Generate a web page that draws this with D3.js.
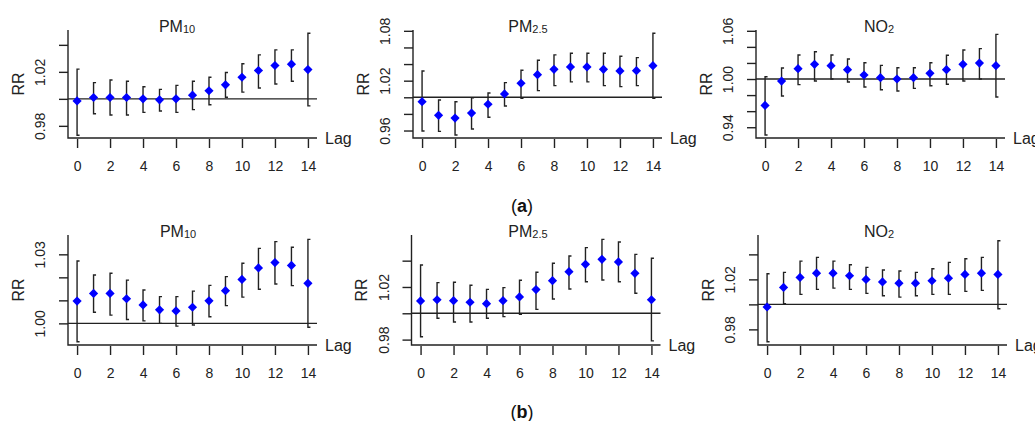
<!DOCTYPE html>
<html>
<head>
<meta charset="utf-8">
<script src="https://cdn.jsdelivr.net/npm/d3@7"></script>
<style>
  body { margin: 0; background: #fff; }
  svg text { font-family: Arial, "Liberation Sans", sans-serif; }
</style>
</head>
<body>
<svg id="chart" width="1035" height="421"></svg>
<script>
const lags = d3.range(0, 15);

// (a) row
const pm10A = [0.9985, 1.001, 1.001, 1.001, 1.000, 0.9993, 1.000, 1.0027, 1.006, 1.0104, 1.016, 1.021, 1.0247, 1.0257, 1.0217];
const pm10ALo = [0.973, 0.989, 0.988, 0.988, 0.990, 0.991, 0.990, 0.992, 0.9956, 1.0012, 1.005, 1.008, 1.011, 1.013, 0.9948];
const pm10AHi = [1.022, 1.012, 1.014, 1.013, 1.009, 1.007, 1.010, 1.013, 1.016, 1.0195, 1.026, 1.0326, 1.0363, 1.0363, 1.0486];

const pm25A = [0.9947, 0.9783, 0.975, 0.981, 0.9916, 1.004, 1.0169, 1.0272, 1.0337, 1.0365, 1.0365, 1.0337, 1.0317, 1.032, 1.038];
const pm25ALo = [0.9594, 0.959, 0.9546, 0.9618, 0.9759, 0.9895, 0.9988, 1.008, 1.014, 1.0185, 1.0185, 1.014, 1.0128, 1.014, 0.9988];
const pm25AHi = [1.0317, 0.9967, 0.9947, 0.9995, 1.0052, 1.0176, 1.0325, 1.0446, 1.051, 1.053, 1.053, 1.053, 1.0494, 1.0478, 1.0771];

const no2A = [0.9672, 0.9975, 1.0129, 1.0183, 1.0166, 1.0116, 1.005, 1.0017, 1.000, 1.0017, 1.0071, 1.0116, 1.0183, 1.0199, 1.0166];
const no2ALo = [0.9303, 0.9788, 0.993, 0.9975, 1.000, 0.9963, 0.990, 0.9867, 0.985, 0.9884, 0.9917, 0.9934, 0.9975, 1.000, 0.9776];
const no2AHi = [1.0029, 1.0137, 1.0299, 1.034, 1.0299, 1.0249, 1.0203, 1.017, 1.0141, 1.0141, 1.0203, 1.0295, 1.0361, 1.0378, 1.0556];

// (b) row
const pm10B = [1.0097, 1.013, 1.013, 1.0107, 1.008, 1.0059, 1.0054, 1.007, 1.0098, 1.0142, 1.0191, 1.0241, 1.0264, 1.0252, 1.0174];
const pm10BLo = [0.992, 1.0048, 1.0036, 1.0017, 1.0011, 1.000, 0.9988, 0.9993, 1.0029, 1.0077, 1.0114, 1.0148, 1.0171, 1.0164, 0.9983];
const pm10BHi = [1.0271, 1.021, 1.0218, 1.0188, 1.0145, 1.0116, 1.0116, 1.014, 1.0165, 1.0203, 1.0261, 1.0326, 1.0355, 1.0331, 1.0365];

const pm25B = [1.0094, 1.0103, 1.0096, 1.0084, 1.0073, 1.0096, 1.0124, 1.018, 1.0248, 1.0316, 1.0372, 1.041, 1.039, 1.0304, 1.0103];
const pm25BLo = [0.9822, 0.9962, 0.9934, 0.9934, 0.9962, 0.9975, 0.9992, 1.003, 1.0109, 1.0185, 1.024, 1.0253, 1.024, 1.0152, 0.979];
const pm25BHi = [1.0367, 1.0233, 1.0236, 1.0213, 1.0182, 1.0195, 1.0251, 1.0312, 1.038, 1.0435, 1.0499, 1.0562, 1.0542, 1.0448, 1.0418];

const no2B = [0.9979, 1.0136, 1.0216, 1.025, 1.025, 1.0229, 1.02, 1.018, 1.017, 1.017, 1.0189, 1.021, 1.024, 1.025, 1.024];
const no2BLo = [0.9701, 1.0005, 1.008, 1.012, 1.013, 1.012, 1.0088, 1.0069, 1.0058, 1.0069, 1.008, 1.008, 1.0104, 1.0112, 0.9965];
const no2BHi = [1.0245, 1.0256, 1.0346, 1.0376, 1.0346, 1.0317, 1.0296, 1.0275, 1.0267, 1.0256, 1.0285, 1.0336, 1.0365, 1.0376, 1.0509];

// y ticks and which of them carry a label
const ticksPm10A = [0.98, 1.00, 1.02, 1.04], labelsPm10A = ["0.98", "", "1.02", ""];
const ticksPm25A = [0.96, 0.98, 1.00, 1.02, 1.04, 1.06, 1.08], labelsPm25A = ["0.96", "", "", "1.02", "", "", "1.08"];
const ticksNo2A = [0.94, 0.96, 0.98, 1.00, 1.02, 1.04, 1.06], labelsNo2A = ["0.94", "", "", "1.00", "", "", "1.06"];
const ticksPm10B = [1.00, 1.01, 1.02, 1.03], labelsPm10B = ["1.00", "", "", "1.03"];
const ticksPm25B = [0.98, 1.00, 1.02, 1.04], labelsPm25B = ["0.98", "", "1.02", ""];
const ticksNo2B = [0.98, 1.00, 1.02, 1.04], labelsNo2B = ["0.98", "", "1.02", ""];
const xTicks = [0, 2, 4, 6, 8, 10, 12, 14];

const svg = d3.select("#chart");
const INK = "#222";

const panels = [
  { name: "PM", sub: "10", est: pm10A, lo: pm10ALo, hi: pm10AHi, left: 68, top: 30, bottom: 138, titleX: 177, yDom: [0.971, 1.051], ticks: ticksPm10A, labels: labelsPm10A },
  { name: "PM", sub: "2.5", est: pm25A, lo: pm25ALo, hi: pm25AHi, left: 413, top: 30, bottom: 138, titleX: 528, yDom: [0.951, 1.081], ticks: ticksPm25A, labels: labelsPm25A },
  { name: "NO", sub: "2", est: no2A, lo: no2ALo, hi: no2AHi, left: 756, top: 30, bottom: 138, titleX: 879, yDom: [0.9266, 1.061], ticks: ticksNo2A, labels: labelsNo2A },
  { name: "PM", sub: "10", est: pm10B, lo: pm10BLo, hi: pm10BHi, left: 68, top: 235, bottom: 345, titleX: 178, yDom: [0.9906, 1.0384], ticks: ticksPm10B, labels: labelsPm10B },
  { name: "PM", sub: "2.5", est: pm25B, lo: pm25BLo, hi: pm25BHi, left: 411.5, top: 235, bottom: 345, titleX: 528, yDom: [0.9759, 1.0595], ticks: ticksPm25B, labels: labelsPm25B },
  { name: "NO", sub: "2", est: no2B, lo: no2BLo, hi: no2BHi, left: 758, top: 235, bottom: 345, titleX: 879, yDom: [0.9675, 1.0555], ticks: ticksNo2B, labels: labelsNo2B }
];

const diamond = s => `M0,${-s}L${s},0L0,${s}L${-s},0Z`;

function drawPanel(p) {
  const right = p.left + 249;
  const x = d3.scaleLinear().domain([-0.55, 14.55]).range([p.left, right]);
  const y = d3.scaleLinear().domain(p.yDom).range([p.bottom, p.top]);
  const g = svg.append("g");

  // L-shaped frame
  g.append("path")
    .attr("d", `M${p.left},${p.top}V${p.bottom}H${right}`)
    .attr("fill", "none").attr("stroke", INK).attr("stroke-width", 1.4);

  // y axis ticks + rotated labels (tick groups are already translated to y)
  const yAxis = d3.axisLeft(y).tickValues(p.ticks).tickSize(9)
    .tickFormat((d, i) => p.labels[i]);
  const ya = g.append("g").attr("transform", `translate(${p.left},0)`).call(yAxis);
  ya.select(".domain").remove();
  ya.selectAll("line").attr("stroke", INK).attr("stroke-width", 1.4);
  ya.selectAll("text")
    .attr("x", 0).attr("y", 0).attr("dy", null)
    .attr("transform", "translate(-28,0) rotate(-90)")
    .attr("text-anchor", "middle").attr("dominant-baseline", "central")
    .attr("font-size", 14).attr("fill", INK);

  // x axis ticks
  const xAxis = d3.axisBottom(x).tickValues(xTicks).tickSize(9).tickPadding(13)
    .tickFormat(d3.format("d"));
  const xa = g.append("g").attr("transform", `translate(0,${p.bottom + 1})`).call(xAxis);
  xa.select(".domain").remove();
  xa.selectAll("line").attr("stroke", INK).attr("stroke-width", 1.4);
  xa.selectAll("text").attr("font-size", 14).attr("fill", INK);

  // reference line at RR = 1
  g.append("line")
    .attr("x1", p.left).attr("x2", right)
    .attr("y1", y(1)).attr("y2", y(1))
    .attr("stroke", INK).attr("stroke-width", 1.4);

  // confidence intervals
  g.append("g").selectAll("path").data(lags).join("path")
    .attr("d", i => {
      const cx = x(i), t = y(p.hi[i]), b = y(p.lo[i]);
      return `M${cx + 2.5},${t}H${cx}V${b}H${cx + 2.5}`;
    })
    .attr("fill", "none").attr("stroke", INK).attr("stroke-width", 1.4);

  // estimates
  g.append("g").selectAll("path").data(lags).join("path")
    .attr("transform", i => `translate(${x(i)},${y(p.est[i])})`)
    .attr("d", diamond(4.6))
    .attr("fill", "#0000ff");

  // title
  const title = g.append("text")
    .attr("x", p.titleX).attr("y", p.top + 1.5)
    .attr("text-anchor", "middle").attr("font-size", 16).attr("fill", "#222");
  title.append("tspan").text(p.name);
  title.append("tspan").attr("font-size", 11).attr("dy", 1).text(p.sub);

  // axis labels
  g.append("text")
    .attr("transform", `translate(${p.left - 50},${(p.top + p.bottom) / 2}) rotate(-90)`)
    .attr("text-anchor", "middle").attr("dominant-baseline", "central")
    .attr("font-size", 16).attr("fill", INK).text("RR");
  g.append("text")
    .attr("x", right + 8).attr("y", p.bottom)
    .attr("dominant-baseline", "central")
    .attr("font-size", 16).attr("fill", INK).text("Lag");
}

panels.forEach(drawPanel);

// row captions
const captions = [{ t: "a", y: 206 }, { t: "b", y: 412 }];
captions.forEach(c => {
  const txt = svg.append("text")
    .attr("x", 522).attr("y", c.y)
    .attr("text-anchor", "middle").attr("dominant-baseline", "central")
    .attr("font-family", "'Liberation Serif', 'DejaVu Serif', serif")
    .attr("font-size", 18).attr("fill", "#111");
  txt.append("tspan").text("(");
  txt.append("tspan").attr("font-weight", "bold").text(c.t);
  txt.append("tspan").text(")");
});
</script>
</body>
</html>
